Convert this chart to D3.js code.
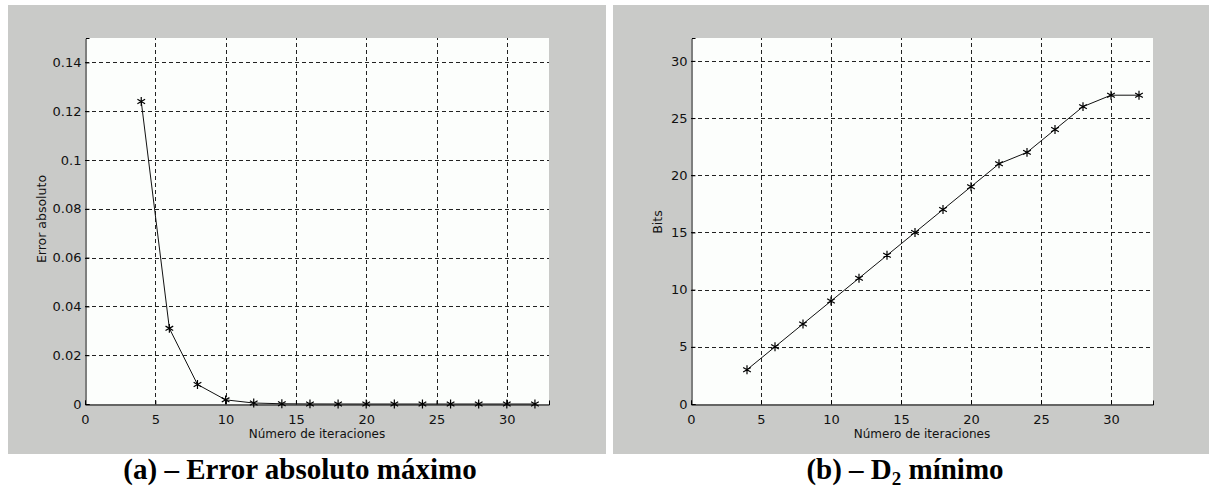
<!DOCTYPE html>
<html><head><meta charset="utf-8">
<script src="https://cdn.jsdelivr.net/npm/d3@7/dist/d3.min.js"></script>
<style>
html,body{margin:0;padding:0;background:#fff;}
svg{display:block;}
</style></head>
<body><svg id="c" width="1209" height="491"></svg>
<script>
const iterations = [4,6,8,10,12,14,16,18,20,22,24,26,28,30,32];
const errorValues = [0.124,0.031,0.008,0.0017,0.0004,0.0001,0.00003,0.00001,0,0,0,0,0,0,0];
const bitsValues = [3,5,7,9,11,13,15,17,19,21,22,24,26,27,27];
const xTicks = [0,5,10,15,20,25,30];
const errorTicks = [0,0.02,0.04,0.06,0.08,0.1,0.12,0.14];
const bitsTicks = [0,5,10,15,20,25,30];
const xLabel = "Número de iteraciones";

const svg = d3.select("#c");
const gray = "#c9cac8";

function panel(opt){
  const g = svg.append("g");
  g.append("rect").attr("x",opt.bx).attr("y",5).attr("width",opt.bw).attr("height",449).attr("fill",gray);
  const x = d3.scaleLinear().domain([0,33]).range([opt.px0,opt.px1]);
  const y = d3.scaleLinear().domain([0,opt.ymax]).range([404,38]);
  g.append("rect").attr("x",opt.px0).attr("y",38).attr("width",opt.px1-opt.px0).attr("height",366).attr("fill","#fcfefc");
  // grid
  const grid = g.append("g").attr("stroke","#222").attr("stroke-width",1).attr("stroke-dasharray","4,3");
  xTicks.filter(d=>d>0).forEach(d=>{
    grid.append("line").attr("x1",Math.round(x(d))+0.5).attr("x2",Math.round(x(d))+0.5).attr("y1",404).attr("y2",38);
  });
  opt.yTicks.filter(d=>d>0).forEach(d=>{
    grid.append("line").attr("y1",Math.round(y(d))+0.5).attr("y2",Math.round(y(d))+0.5).attr("x1",opt.px0).attr("x2",opt.px1);
  });
  // axes
  const xa = d3.axisBottom(x).tickValues(xTicks).tickSize(-4).tickPadding(8).tickFormat(d3.format("d"));
  const ya = d3.axisLeft(y).tickValues(opt.yTicks).tickSize(-4).tickPadding(4).tickFormat(opt.fmt);
  const gx = g.append("g").attr("transform","translate(0,404.5)").call(xa);
  const gy = g.append("g").attr("transform",`translate(${opt.px0+0.5},0)`).call(ya);
  [gx,gy].forEach(a=>{
    a.select(".domain").attr("stroke","#000");
    a.selectAll(".tick line").attr("stroke","#000");
    a.selectAll("text").attr("fill","#111").style("font-family","'DejaVu Sans', sans-serif").style("font-size","13px");
  });
  gx.selectAll("text").attr("dy","0.85em");
  // line
  const data = iterations.map((d,i)=>[d,opt.values[i]]);
  g.append("path").datum(data).attr("fill","none").attr("stroke","#111").attr("stroke-width",1)
    .attr("d",d3.line().x(d=>x(d[0])).y(d=>y(d[1])));
  const star = d3.symbol().type(d3.symbolAsterisk).size(55);
  g.selectAll("path.m").data(data).enter().append("path").attr("class","m")
    .attr("transform",d=>`translate(${x(d[0])},${y(d[1])})`)
    .attr("d",star).attr("fill","none").attr("stroke","#000").attr("stroke-width",1.2);
  // labels
  g.append("text").attr("x",(opt.px0+opt.px1)/2).attr("y",438).attr("text-anchor","middle")
    .style("font-family","'DejaVu Sans', sans-serif").style("font-size","12px").attr("fill","#111").text(xLabel);
  g.append("text").attr("transform",`translate(${opt.ylx},${opt.yly}) rotate(-90)`).attr("text-anchor","middle")
    .style("font-family","'DejaVu Sans', sans-serif").style("font-size","12.5px").attr("fill","#111").text(opt.ylabel);
  // caption
  const cap = g.append("text").attr("x",opt.capx).attr("y",479).attr("text-anchor","middle")
    .style("font-family","'Liberation Serif', serif").style("font-weight","bold").style("font-size","29px").attr("fill","#000");
  opt.caption(cap);
}

panel({bx:8,bw:598,px0:85,px1:549,ymax:0.15,yTicks:errorTicks,fmt:d=>d===0?"0":String(+d.toFixed(2)),
  values:errorValues,ylabel:"Error absoluto",ylx:46,yly:219,capx:300,
  caption:c=>c.text("(a) – Error absoluto máximo")});
panel({bx:613,bw:596,px0:691,px1:1153,ymax:32,yTicks:bitsTicks,fmt:d3.format("d"),
  values:bitsValues,ylabel:"Bits",ylx:662,yly:222,capx:905,
  caption:c=>{c.append("tspan").text("(b) – D");c.append("tspan").attr("font-size","19px").attr("dy","6").text("2");c.append("tspan").attr("dy","-6").text(" mínimo");}});
</script></body></html>
